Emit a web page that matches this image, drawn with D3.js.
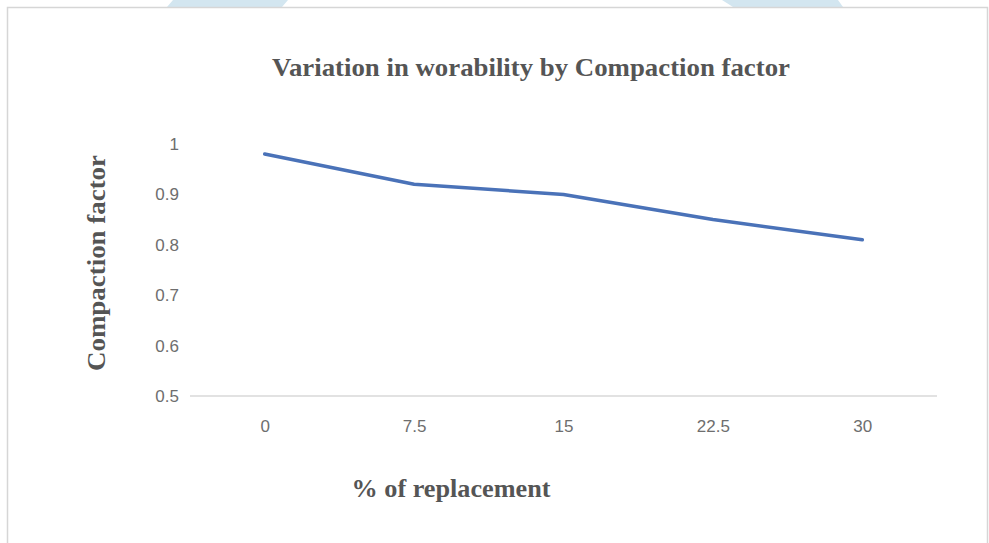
<!DOCTYPE html>
<html>
<head>
<meta charset="utf-8">
<script src="https://cdn.jsdelivr.net/npm/d3@7"></script>
<style>
  body { margin: 0; background: #fff; }
  svg { display: block; }
  .tick-label { font-family: "Liberation Sans", "Open Sans", sans-serif; font-size: 17px; fill: #6e6e6e; }
  .title { font-family: "Liberation Serif", "DejaVu Serif", serif; font-weight: bold; fill: #555; }
</style>
</head>
<body>
<svg id="chart"></svg>
<script>
/**
 * Data
 */
const categories = ["0", "7.5", "15", "22.5", "30"];
const compaction = [0.98, 0.92, 0.90, 0.85, 0.81];
const yTicks = [0.5, 0.6, 0.7, 0.8, 0.9, 1];

const width = 989;
const height = 543;
const plot = { left: 190, right: 937, top: 144, bottom: 396 };

const svg = d3.select("#chart")
              .attr("width", width)
              .attr("height", height);

// frame + faint watermark shapes at the top edge
svg.append("path")
   .attr("d", "M173,0 L288,0 L282,7 L167,7 Z")
   .attr("fill", "#d3e6f0");
svg.append("path")
   .attr("d", "M722,0 L838,0 L843,7 L733,7 Z")
   .attr("fill", "#d3e6f0");

svg.append("rect")
   .attr("x", 7.5).attr("y", 7.5)
   .attr("width", 980).attr("height", 540)
   .attr("fill", "none")
   .attr("stroke", "#d6d6d6")
   .attr("stroke-width", 1.5);

/**
 * Scales
 */
const xScale = d3.scalePoint()
                 .domain(categories)
                 .range([plot.left, plot.right])
                 .padding(0.5);

const yScale = d3.scaleLinear()
                 .domain([0.5, 1])
                 .range([plot.bottom, plot.top]);

// baseline
svg.append("line")
   .attr("x1", plot.left).attr("x2", plot.right)
   .attr("y1", yScale(0.5)).attr("y2", yScale(0.5))
   .attr("stroke", "#d9d9d9")
   .attr("stroke-width", 1.5);

// y axis labels
const yAxis = d3.axisLeft(yScale)
                .tickValues(yTicks)
                .tickFormat(d => d3.format("")(d))
                .tickSize(0)
                .tickPadding(0);

svg.append("g")
   .attr("transform", "translate(179,0)")
   .call(yAxis)
   .call(g => g.select(".domain").remove())
   .selectAll("text")
   .attr("class", "tick-label")
   .attr("font-size", null)
   .attr("font-family", null);

// x axis labels
const xAxis = d3.axisBottom(xScale).tickSize(0).tickPadding(24);

svg.append("g")
   .attr("transform", "translate(0," + plot.bottom + ")")
   .call(xAxis)
   .call(g => g.select(".domain").remove())
   .selectAll("text")
   .attr("class", "tick-label")
   .attr("font-size", null)
   .attr("font-family", null);

/**
 * Line
 */
const line = d3.line()
               .x((d, i) => xScale(categories[i]))
               .y(d => yScale(d));

svg.append("path")
   .datum(compaction)
   .attr("d", line)
   .attr("fill", "none")
   .attr("stroke", "#4a72b8")
   .attr("stroke-width", 3.5)
   .attr("stroke-linecap", "round")
   .attr("stroke-linejoin", "round");

/**
 * Titles
 */
svg.append("text")
   .attr("class", "title")
   .attr("x", 531).attr("y", 76)
   .attr("text-anchor", "middle")
   .attr("font-size", 25)
   .attr("textLength", 518)
   .attr("lengthAdjust", "spacingAndGlyphs")
   .text("Variation in worability by Compaction factor");

svg.append("text")
   .attr("class", "title")
   .attr("x", 451).attr("y", 497)
   .attr("text-anchor", "middle")
   .attr("font-size", 25)
   .attr("textLength", 199)
   .attr("lengthAdjust", "spacingAndGlyphs")
   .text("% of replacement");

svg.append("text")
   .attr("class", "title")
   .attr("transform", "translate(105,263) rotate(-90)")
   .attr("text-anchor", "middle")
   .attr("font-size", 26)
   .attr("textLength", 216)
   .attr("lengthAdjust", "spacingAndGlyphs")
   .text("Compaction factor");
</script>
</body>
</html>
